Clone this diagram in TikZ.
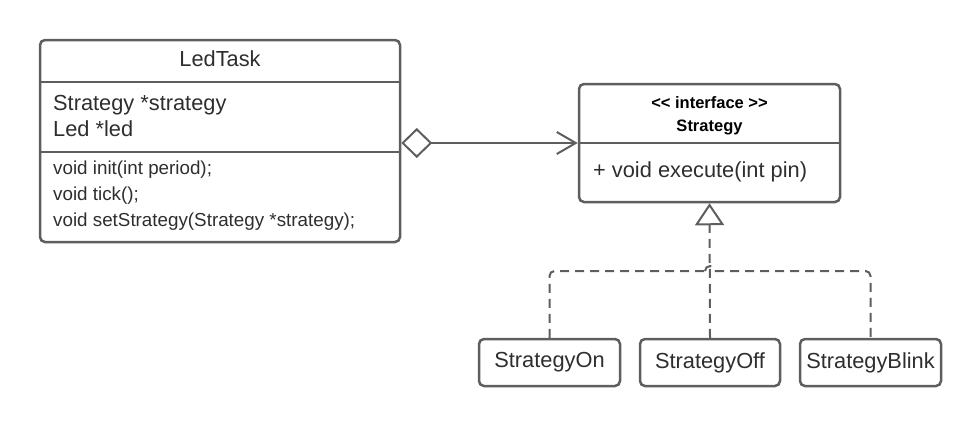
\documentclass[tikz,border=0pt]{standalone}
\usepackage{fontspec}
\setmainfont{Liberation Sans}
\usetikzlibrary{arrows.meta}
\definecolor{umlline}{HTML}{5E5E5E}
\definecolor{umltext}{HTML}{2E2E2E}

\begin{document}
\begin{tikzpicture}[x=1pt,y=-1pt]
        \tikzstyle{every node}+=[inner sep=0pt, text=umltext]
        \tikzstyle{classbox}=[draw=umlline, line width=2.5pt, rounded corners=5pt, rectangle]
        \tikzstyle{bigtext}=[font=\fontsize{21.8}{25}\selectfont]
        \tikzstyle{smalltext}=[font=\fontsize{18.8}{22}\selectfont]
        \tikzstyle{headtext}=[font=\bfseries\fontsize{16.5}{20}\selectfont, anchor=base, text=black]
        \tikzstyle{divider}=[umlline, line width=2.5pt]
        \tikzstyle{link}=[umlline, line width=2pt]
        \tikzstyle{realize}=[umlline, line width=2pt, dash pattern=on 9pt off 6pt]
        \useasboundingbox (0,0) rectangle (980,426);
        \draw (220,141) node [classbox, minimum width=360pt, minimum height=202pt] (ledtask) {};
        \coordinate (ledcut1) at (0,82);
        \coordinate (ledcut2) at (0,152);
        \draw [divider] (ledtask.west |- ledcut1) -- (ledtask.east |- ledcut1);
        \draw [divider] (ledtask.west |- ledcut2) -- (ledtask.east |- ledcut2);
        \draw (220,66) node [bigtext, anchor=base] (ledname) {LedTask};
        \draw (53,110) node [bigtext, anchor=base west] (ledattr1) {Strategy *strategy};
        \draw (53,136) node [bigtext, anchor=base west] (ledattr2) {Led *led};
        \draw (53,174) node [smalltext, anchor=base west] (ledop1) {void init(int period);};
        \draw (53,200) node [smalltext, anchor=base west] (ledop2) {void tick();};
        \draw (53,226) node [smalltext, anchor=base west] (ledop3) {void setStrategy(Strategy *strategy);};
        \draw (709.5,143) node [classbox, minimum width=261pt, minimum height=118pt] (strategy) {};
        \coordinate (stratcut) at (0,143);
        \draw [divider] (strategy.west |- stratcut) -- (strategy.east |- stratcut);
        \draw (709.5,108.5) node [headtext] (stereo) {{<}{<} interface {>}{>}};
        \draw (709.5,131) node [headtext] (stratname) {Strategy};
        \draw (593,177) node [bigtext, anchor=base west] (stratop) {+ void execute(int pin)};
        \draw (549.5,362.5) node [classbox, bigtext, minimum width=141pt, minimum height=47pt] (on) {StrategyOn};
        \draw (710,362.5) node [classbox, bigtext, minimum width=140pt, minimum height=47pt] (off) {StrategyOff};
        \draw (870.5,362.5) node [classbox, bigtext, minimum width=141pt, minimum height=47pt] (blink) {StrategyBlink};
        \draw [link, {Diamond[open, length=31pt, width=30pt]}-{Straight Barb[length=19pt, width=22pt]}] (ledtask.east |- strategy.west) -- (strategy.west);
        \coordinate (bus) at (710,271);
        \draw [realize, rounded corners=5pt] (on.north) |- ([xshift=-5pt]bus);
        \draw [realize, rounded corners=5pt] ([xshift=5pt]bus) -| (blink.north);
        \draw [realize] ([xshift=-5pt]bus) arc [start angle=180, end angle=0, radius=5pt];
        \draw [realize, -{Triangle[open, length=22pt, width=29pt]}] (off.north) -- (strategy.south);
\end{tikzpicture}
\end{document}
